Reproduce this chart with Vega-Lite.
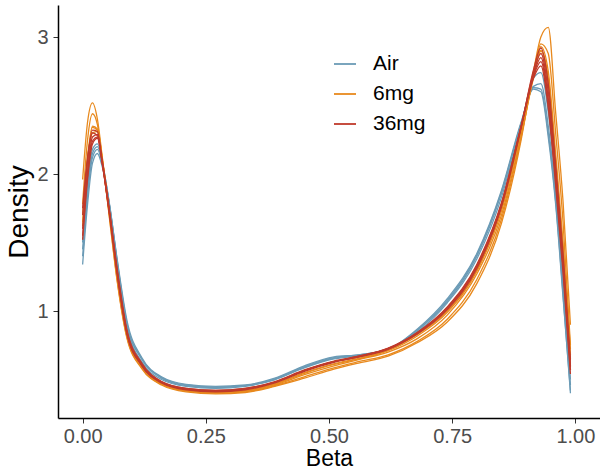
{
  "$schema": "https://vega.github.io/schema/vega-lite/v6.json",
  "autosize": {"type": "none"},
  "padding": {"left": 58, "top": 5, "right": 0, "bottom": 54},
  "width": 542,
  "height": 413,
  "background": "white",
  "config": {
    "view": {"stroke": null},
    "font": "Liberation Sans",
    "axis": {
      "grid": false,
      "domainColor": "#000000",
      "domainWidth": 1.5,
      "tickColor": "#333333",
      "tickWidth": 1,
      "tickSize": 5,
      "labelColor": "#4D4D4D",
      "labelFont": "Liberation Sans",
      "labelFontSize": 20,
      "titleFont": "Liberation Sans",
      "titleFontWeight": "normal",
      "titleColor": "#000000"
    }
  },
  "data": {
    "values": [
      {"s":"A1","g":"Air","x":0,"y":1.34},{"s":"A1","g":"Air","x":0.01,"y":1.78},{"s":"A1","g":"Air","x":0.02,"y":2.08},{"s":"A1","g":"Air","x":0.03,"y":2.15},{"s":"A1","g":"Air","x":0.04,"y":2.05},{"s":"A1","g":"Air","x":0.055,"y":1.76},{"s":"A1","g":"Air","x":0.07,"y":1.38},{"s":"A1","g":"Air","x":0.09,"y":0.93},{"s":"A1","g":"Air","x":0.12,"y":0.66},{"s":"A1","g":"Air","x":0.16,"y":0.52},{"s":"A1","g":"Air","x":0.21,"y":0.465},{"s":"A1","g":"Air","x":0.27,"y":0.45},{"s":"A1","g":"Air","x":0.33,"y":0.46},{"s":"A1","g":"Air","x":0.39,"y":0.51},{"s":"A1","g":"Air","x":0.45,"y":0.6},{"s":"A1","g":"Air","x":0.51,"y":0.665},{"s":"A1","g":"Air","x":0.56,"y":0.68},{"s":"A1","g":"Air","x":0.62,"y":0.72},{"s":"A1","g":"Air","x":0.68,"y":0.87},{"s":"A1","g":"Air","x":0.74,"y":1.09},{"s":"A1","g":"Air","x":0.8,"y":1.42},{"s":"A1","g":"Air","x":0.85,"y":1.88},{"s":"A1","g":"Air","x":0.89,"y":2.38},{"s":"A1","g":"Air","x":0.915,"y":2.62},{"s":"A1","g":"Air","x":0.93,"y":2.6},{"s":"A1","g":"Air","x":0.945,"y":2.27},{"s":"A1","g":"Air","x":0.96,"y":1.78},{"s":"A1","g":"Air","x":0.975,"y":1.1},{"s":"A1","g":"Air","x":0.99,"y":0.42},
      {"s":"A2","g":"Air","x":0,"y":1.45},{"s":"A2","g":"Air","x":0.01,"y":1.88},{"s":"A2","g":"Air","x":0.02,"y":2.15},{"s":"A2","g":"Air","x":0.03,"y":2.2},{"s":"A2","g":"Air","x":0.04,"y":2.08},{"s":"A2","g":"Air","x":0.055,"y":1.77},{"s":"A2","g":"Air","x":0.07,"y":1.37},{"s":"A2","g":"Air","x":0.09,"y":0.91},{"s":"A2","g":"Air","x":0.12,"y":0.65},{"s":"A2","g":"Air","x":0.16,"y":0.51},{"s":"A2","g":"Air","x":0.21,"y":0.455},{"s":"A2","g":"Air","x":0.27,"y":0.44},{"s":"A2","g":"Air","x":0.33,"y":0.455},{"s":"A2","g":"Air","x":0.39,"y":0.5},{"s":"A2","g":"Air","x":0.45,"y":0.59},{"s":"A2","g":"Air","x":0.51,"y":0.655},{"s":"A2","g":"Air","x":0.56,"y":0.675},{"s":"A2","g":"Air","x":0.62,"y":0.72},{"s":"A2","g":"Air","x":0.68,"y":0.86},{"s":"A2","g":"Air","x":0.74,"y":1.07},{"s":"A2","g":"Air","x":0.8,"y":1.4},{"s":"A2","g":"Air","x":0.85,"y":1.86},{"s":"A2","g":"Air","x":0.89,"y":2.37},{"s":"A2","g":"Air","x":0.915,"y":2.64},{"s":"A2","g":"Air","x":0.93,"y":2.66},{"s":"A2","g":"Air","x":0.945,"y":2.35},{"s":"A2","g":"Air","x":0.96,"y":1.85},{"s":"A2","g":"Air","x":0.975,"y":1.18},{"s":"A2","g":"Air","x":0.99,"y":0.46},
      {"s":"A3","g":"Air","x":0,"y":1.5},{"s":"A3","g":"Air","x":0.01,"y":1.92},{"s":"A3","g":"Air","x":0.02,"y":2.18},{"s":"A3","g":"Air","x":0.03,"y":2.22},{"s":"A3","g":"Air","x":0.04,"y":2.09},{"s":"A3","g":"Air","x":0.055,"y":1.75},{"s":"A3","g":"Air","x":0.07,"y":1.33},{"s":"A3","g":"Air","x":0.09,"y":0.88},{"s":"A3","g":"Air","x":0.12,"y":0.63},{"s":"A3","g":"Air","x":0.16,"y":0.5},{"s":"A3","g":"Air","x":0.21,"y":0.45},{"s":"A3","g":"Air","x":0.27,"y":0.435},{"s":"A3","g":"Air","x":0.33,"y":0.45},{"s":"A3","g":"Air","x":0.39,"y":0.5},{"s":"A3","g":"Air","x":0.45,"y":0.585},{"s":"A3","g":"Air","x":0.51,"y":0.65},{"s":"A3","g":"Air","x":0.56,"y":0.675},{"s":"A3","g":"Air","x":0.62,"y":0.725},{"s":"A3","g":"Air","x":0.68,"y":0.85},{"s":"A3","g":"Air","x":0.74,"y":1.06},{"s":"A3","g":"Air","x":0.8,"y":1.38},{"s":"A3","g":"Air","x":0.85,"y":1.83},{"s":"A3","g":"Air","x":0.89,"y":2.36},{"s":"A3","g":"Air","x":0.915,"y":2.7},{"s":"A3","g":"Air","x":0.93,"y":2.74},{"s":"A3","g":"Air","x":0.945,"y":2.45},{"s":"A3","g":"Air","x":0.96,"y":1.92},{"s":"A3","g":"Air","x":0.975,"y":1.25},{"s":"A3","g":"Air","x":0.99,"y":0.5},
      {"s":"A4","g":"Air","x":0,"y":1.4},{"s":"A4","g":"Air","x":0.01,"y":1.84},{"s":"A4","g":"Air","x":0.02,"y":2.12},{"s":"A4","g":"Air","x":0.03,"y":2.18},{"s":"A4","g":"Air","x":0.04,"y":2.07},{"s":"A4","g":"Air","x":0.055,"y":1.76},{"s":"A4","g":"Air","x":0.07,"y":1.36},{"s":"A4","g":"Air","x":0.09,"y":0.9},{"s":"A4","g":"Air","x":0.12,"y":0.65},{"s":"A4","g":"Air","x":0.16,"y":0.515},{"s":"A4","g":"Air","x":0.21,"y":0.46},{"s":"A4","g":"Air","x":0.27,"y":0.445},{"s":"A4","g":"Air","x":0.33,"y":0.455},{"s":"A4","g":"Air","x":0.39,"y":0.505},{"s":"A4","g":"Air","x":0.45,"y":0.595},{"s":"A4","g":"Air","x":0.51,"y":0.66},{"s":"A4","g":"Air","x":0.56,"y":0.68},{"s":"A4","g":"Air","x":0.62,"y":0.72},{"s":"A4","g":"Air","x":0.68,"y":0.865},{"s":"A4","g":"Air","x":0.74,"y":1.08},{"s":"A4","g":"Air","x":0.8,"y":1.41},{"s":"A4","g":"Air","x":0.85,"y":1.87},{"s":"A4","g":"Air","x":0.89,"y":2.37},{"s":"A4","g":"Air","x":0.915,"y":2.63},{"s":"A4","g":"Air","x":0.93,"y":2.62},{"s":"A4","g":"Air","x":0.945,"y":2.3},{"s":"A4","g":"Air","x":0.96,"y":1.8},{"s":"A4","g":"Air","x":0.975,"y":1.12},{"s":"A4","g":"Air","x":0.99,"y":0.4},
      {"s":"O1","g":"6mg","x":0,"y":1.96},{"s":"O1","g":"6mg","x":0.01,"y":2.38},{"s":"O1","g":"6mg","x":0.02,"y":2.52},{"s":"O1","g":"6mg","x":0.03,"y":2.4},{"s":"O1","g":"6mg","x":0.04,"y":2.12},{"s":"O1","g":"6mg","x":0.055,"y":1.66},{"s":"O1","g":"6mg","x":0.07,"y":1.22},{"s":"O1","g":"6mg","x":0.09,"y":0.8},{"s":"O1","g":"6mg","x":0.12,"y":0.58},{"s":"O1","g":"6mg","x":0.16,"y":0.46},{"s":"O1","g":"6mg","x":0.21,"y":0.41},{"s":"O1","g":"6mg","x":0.27,"y":0.395},{"s":"O1","g":"6mg","x":0.33,"y":0.405},{"s":"O1","g":"6mg","x":0.39,"y":0.45},{"s":"O1","g":"6mg","x":0.45,"y":0.51},{"s":"O1","g":"6mg","x":0.51,"y":0.575},{"s":"O1","g":"6mg","x":0.56,"y":0.62},{"s":"O1","g":"6mg","x":0.62,"y":0.67},{"s":"O1","g":"6mg","x":0.68,"y":0.77},{"s":"O1","g":"6mg","x":0.74,"y":0.92},{"s":"O1","g":"6mg","x":0.8,"y":1.2},{"s":"O1","g":"6mg","x":0.85,"y":1.64},{"s":"O1","g":"6mg","x":0.89,"y":2.25},{"s":"O1","g":"6mg","x":0.915,"y":2.75},{"s":"O1","g":"6mg","x":0.93,"y":3.0},{"s":"O1","g":"6mg","x":0.945,"y":3.07},{"s":"O1","g":"6mg","x":0.96,"y":2.45},{"s":"O1","g":"6mg","x":0.975,"y":1.8},{"s":"O1","g":"6mg","x":0.99,"y":0.9},
      {"s":"O2","g":"6mg","x":0,"y":1.78},{"s":"O2","g":"6mg","x":0.01,"y":2.25},{"s":"O2","g":"6mg","x":0.02,"y":2.44},{"s":"O2","g":"6mg","x":0.03,"y":2.36},{"s":"O2","g":"6mg","x":0.04,"y":2.1},{"s":"O2","g":"6mg","x":0.055,"y":1.67},{"s":"O2","g":"6mg","x":0.07,"y":1.23},{"s":"O2","g":"6mg","x":0.09,"y":0.81},{"s":"O2","g":"6mg","x":0.12,"y":0.585},{"s":"O2","g":"6mg","x":0.16,"y":0.465},{"s":"O2","g":"6mg","x":0.21,"y":0.415},{"s":"O2","g":"6mg","x":0.27,"y":0.4},{"s":"O2","g":"6mg","x":0.33,"y":0.41},{"s":"O2","g":"6mg","x":0.39,"y":0.455},{"s":"O2","g":"6mg","x":0.45,"y":0.52},{"s":"O2","g":"6mg","x":0.51,"y":0.585},{"s":"O2","g":"6mg","x":0.56,"y":0.63},{"s":"O2","g":"6mg","x":0.62,"y":0.68},{"s":"O2","g":"6mg","x":0.68,"y":0.78},{"s":"O2","g":"6mg","x":0.74,"y":0.94},{"s":"O2","g":"6mg","x":0.8,"y":1.23},{"s":"O2","g":"6mg","x":0.85,"y":1.67},{"s":"O2","g":"6mg","x":0.89,"y":2.27},{"s":"O2","g":"6mg","x":0.915,"y":2.72},{"s":"O2","g":"6mg","x":0.93,"y":2.95},{"s":"O2","g":"6mg","x":0.945,"y":2.88},{"s":"O2","g":"6mg","x":0.96,"y":2.3},{"s":"O2","g":"6mg","x":0.975,"y":1.65},{"s":"O2","g":"6mg","x":0.99,"y":0.75},
      {"s":"O3","g":"6mg","x":0,"y":1.62},{"s":"O3","g":"6mg","x":0.01,"y":2.1},{"s":"O3","g":"6mg","x":0.02,"y":2.34},{"s":"O3","g":"6mg","x":0.03,"y":2.32},{"s":"O3","g":"6mg","x":0.04,"y":2.1},{"s":"O3","g":"6mg","x":0.055,"y":1.69},{"s":"O3","g":"6mg","x":0.07,"y":1.26},{"s":"O3","g":"6mg","x":0.09,"y":0.83},{"s":"O3","g":"6mg","x":0.12,"y":0.6},{"s":"O3","g":"6mg","x":0.16,"y":0.47},{"s":"O3","g":"6mg","x":0.21,"y":0.42},{"s":"O3","g":"6mg","x":0.27,"y":0.405},{"s":"O3","g":"6mg","x":0.33,"y":0.415},{"s":"O3","g":"6mg","x":0.39,"y":0.46},{"s":"O3","g":"6mg","x":0.45,"y":0.535},{"s":"O3","g":"6mg","x":0.51,"y":0.6},{"s":"O3","g":"6mg","x":0.56,"y":0.645},{"s":"O3","g":"6mg","x":0.62,"y":0.7},{"s":"O3","g":"6mg","x":0.68,"y":0.8},{"s":"O3","g":"6mg","x":0.74,"y":0.97},{"s":"O3","g":"6mg","x":0.8,"y":1.27},{"s":"O3","g":"6mg","x":0.85,"y":1.7},{"s":"O3","g":"6mg","x":0.89,"y":2.28},{"s":"O3","g":"6mg","x":0.915,"y":2.7},{"s":"O3","g":"6mg","x":0.93,"y":2.9},{"s":"O3","g":"6mg","x":0.945,"y":2.7},{"s":"O3","g":"6mg","x":0.96,"y":2.1},{"s":"O3","g":"6mg","x":0.975,"y":1.45},{"s":"O3","g":"6mg","x":0.99,"y":0.68},
      {"s":"O4","g":"6mg","x":0,"y":1.7},{"s":"O4","g":"6mg","x":0.01,"y":2.12},{"s":"O4","g":"6mg","x":0.02,"y":2.35},{"s":"O4","g":"6mg","x":0.03,"y":2.33},{"s":"O4","g":"6mg","x":0.04,"y":2.11},{"s":"O4","g":"6mg","x":0.055,"y":1.7},{"s":"O4","g":"6mg","x":0.07,"y":1.27},{"s":"O4","g":"6mg","x":0.09,"y":0.83},{"s":"O4","g":"6mg","x":0.12,"y":0.6},{"s":"O4","g":"6mg","x":0.16,"y":0.475},{"s":"O4","g":"6mg","x":0.21,"y":0.425},{"s":"O4","g":"6mg","x":0.27,"y":0.41},{"s":"O4","g":"6mg","x":0.33,"y":0.42},{"s":"O4","g":"6mg","x":0.39,"y":0.465},{"s":"O4","g":"6mg","x":0.45,"y":0.545},{"s":"O4","g":"6mg","x":0.51,"y":0.61},{"s":"O4","g":"6mg","x":0.56,"y":0.65},{"s":"O4","g":"6mg","x":0.62,"y":0.71},{"s":"O4","g":"6mg","x":0.68,"y":0.82},{"s":"O4","g":"6mg","x":0.74,"y":0.99},{"s":"O4","g":"6mg","x":0.8,"y":1.29},{"s":"O4","g":"6mg","x":0.85,"y":1.73},{"s":"O4","g":"6mg","x":0.89,"y":2.31},{"s":"O4","g":"6mg","x":0.915,"y":2.72},{"s":"O4","g":"6mg","x":0.93,"y":2.9},{"s":"O4","g":"6mg","x":0.945,"y":2.65},{"s":"O4","g":"6mg","x":0.96,"y":2.05},{"s":"O4","g":"6mg","x":0.975,"y":1.4},{"s":"O4","g":"6mg","x":0.99,"y":0.65},
      {"s":"O5","g":"6mg","x":0,"y":1.65},{"s":"O5","g":"6mg","x":0.01,"y":2.08},{"s":"O5","g":"6mg","x":0.02,"y":2.3},{"s":"O5","g":"6mg","x":0.03,"y":2.31},{"s":"O5","g":"6mg","x":0.04,"y":2.1},{"s":"O5","g":"6mg","x":0.055,"y":1.7},{"s":"O5","g":"6mg","x":0.07,"y":1.28},{"s":"O5","g":"6mg","x":0.09,"y":0.84},{"s":"O5","g":"6mg","x":0.12,"y":0.605},{"s":"O5","g":"6mg","x":0.16,"y":0.475},{"s":"O5","g":"6mg","x":0.21,"y":0.425},{"s":"O5","g":"6mg","x":0.27,"y":0.41},{"s":"O5","g":"6mg","x":0.33,"y":0.42},{"s":"O5","g":"6mg","x":0.39,"y":0.47},{"s":"O5","g":"6mg","x":0.45,"y":0.55},{"s":"O5","g":"6mg","x":0.51,"y":0.615},{"s":"O5","g":"6mg","x":0.56,"y":0.655},{"s":"O5","g":"6mg","x":0.62,"y":0.715},{"s":"O5","g":"6mg","x":0.68,"y":0.83},{"s":"O5","g":"6mg","x":0.74,"y":1.0},{"s":"O5","g":"6mg","x":0.8,"y":1.3},{"s":"O5","g":"6mg","x":0.85,"y":1.75},{"s":"O5","g":"6mg","x":0.89,"y":2.32},{"s":"O5","g":"6mg","x":0.915,"y":2.73},{"s":"O5","g":"6mg","x":0.93,"y":2.93},{"s":"O5","g":"6mg","x":0.945,"y":2.75},{"s":"O5","g":"6mg","x":0.96,"y":2.15},{"s":"O5","g":"6mg","x":0.975,"y":1.5},{"s":"O5","g":"6mg","x":0.99,"y":0.72},
      {"s":"R1","g":"36mg","x":0,"y":1.6},{"s":"R1","g":"36mg","x":0.01,"y":2.02},{"s":"R1","g":"36mg","x":0.02,"y":2.27},{"s":"R1","g":"36mg","x":0.03,"y":2.29},{"s":"R1","g":"36mg","x":0.04,"y":2.08},{"s":"R1","g":"36mg","x":0.055,"y":1.7},{"s":"R1","g":"36mg","x":0.07,"y":1.29},{"s":"R1","g":"36mg","x":0.09,"y":0.84},{"s":"R1","g":"36mg","x":0.12,"y":0.61},{"s":"R1","g":"36mg","x":0.16,"y":0.48},{"s":"R1","g":"36mg","x":0.21,"y":0.43},{"s":"R1","g":"36mg","x":0.27,"y":0.415},{"s":"R1","g":"36mg","x":0.33,"y":0.43},{"s":"R1","g":"36mg","x":0.39,"y":0.48},{"s":"R1","g":"36mg","x":0.45,"y":0.565},{"s":"R1","g":"36mg","x":0.51,"y":0.63},{"s":"R1","g":"36mg","x":0.56,"y":0.665},{"s":"R1","g":"36mg","x":0.62,"y":0.725},{"s":"R1","g":"36mg","x":0.68,"y":0.84},{"s":"R1","g":"36mg","x":0.74,"y":1.02},{"s":"R1","g":"36mg","x":0.8,"y":1.32},{"s":"R1","g":"36mg","x":0.85,"y":1.77},{"s":"R1","g":"36mg","x":0.89,"y":2.34},{"s":"R1","g":"36mg","x":0.915,"y":2.72},{"s":"R1","g":"36mg","x":0.93,"y":2.85},{"s":"R1","g":"36mg","x":0.945,"y":2.55},{"s":"R1","g":"36mg","x":0.96,"y":1.98},{"s":"R1","g":"36mg","x":0.975,"y":1.35},{"s":"R1","g":"36mg","x":0.99,"y":0.59},
      {"s":"R2","g":"36mg","x":0,"y":1.7},{"s":"R2","g":"36mg","x":0.01,"y":2.1},{"s":"R2","g":"36mg","x":0.02,"y":2.32},{"s":"R2","g":"36mg","x":0.03,"y":2.31},{"s":"R2","g":"36mg","x":0.04,"y":2.08},{"s":"R2","g":"36mg","x":0.055,"y":1.69},{"s":"R2","g":"36mg","x":0.07,"y":1.27},{"s":"R2","g":"36mg","x":0.09,"y":0.83},{"s":"R2","g":"36mg","x":0.12,"y":0.6},{"s":"R2","g":"36mg","x":0.16,"y":0.475},{"s":"R2","g":"36mg","x":0.21,"y":0.425},{"s":"R2","g":"36mg","x":0.27,"y":0.41},{"s":"R2","g":"36mg","x":0.33,"y":0.425},{"s":"R2","g":"36mg","x":0.39,"y":0.475},{"s":"R2","g":"36mg","x":0.45,"y":0.56},{"s":"R2","g":"36mg","x":0.51,"y":0.625},{"s":"R2","g":"36mg","x":0.56,"y":0.665},{"s":"R2","g":"36mg","x":0.62,"y":0.725},{"s":"R2","g":"36mg","x":0.68,"y":0.835},{"s":"R2","g":"36mg","x":0.74,"y":1.01},{"s":"R2","g":"36mg","x":0.8,"y":1.31},{"s":"R2","g":"36mg","x":0.85,"y":1.76},{"s":"R2","g":"36mg","x":0.89,"y":2.34},{"s":"R2","g":"36mg","x":0.915,"y":2.76},{"s":"R2","g":"36mg","x":0.93,"y":2.92},{"s":"R2","g":"36mg","x":0.945,"y":2.66},{"s":"R2","g":"36mg","x":0.96,"y":2.07},{"s":"R2","g":"36mg","x":0.975,"y":1.42},{"s":"R2","g":"36mg","x":0.99,"y":0.64},
      {"s":"R3","g":"36mg","x":0,"y":1.52},{"s":"R3","g":"36mg","x":0.01,"y":1.96},{"s":"R3","g":"36mg","x":0.02,"y":2.22},{"s":"R3","g":"36mg","x":0.03,"y":2.26},{"s":"R3","g":"36mg","x":0.04,"y":2.08},{"s":"R3","g":"36mg","x":0.055,"y":1.72},{"s":"R3","g":"36mg","x":0.07,"y":1.31},{"s":"R3","g":"36mg","x":0.09,"y":0.86},{"s":"R3","g":"36mg","x":0.12,"y":0.62},{"s":"R3","g":"36mg","x":0.16,"y":0.485},{"s":"R3","g":"36mg","x":0.21,"y":0.435},{"s":"R3","g":"36mg","x":0.27,"y":0.42},{"s":"R3","g":"36mg","x":0.33,"y":0.435},{"s":"R3","g":"36mg","x":0.39,"y":0.485},{"s":"R3","g":"36mg","x":0.45,"y":0.57},{"s":"R3","g":"36mg","x":0.51,"y":0.635},{"s":"R3","g":"36mg","x":0.56,"y":0.67},{"s":"R3","g":"36mg","x":0.62,"y":0.725},{"s":"R3","g":"36mg","x":0.68,"y":0.845},{"s":"R3","g":"36mg","x":0.74,"y":1.03},{"s":"R3","g":"36mg","x":0.8,"y":1.34},{"s":"R3","g":"36mg","x":0.85,"y":1.79},{"s":"R3","g":"36mg","x":0.89,"y":2.35},{"s":"R3","g":"36mg","x":0.915,"y":2.7},{"s":"R3","g":"36mg","x":0.93,"y":2.79},{"s":"R3","g":"36mg","x":0.945,"y":2.48},{"s":"R3","g":"36mg","x":0.96,"y":1.92},{"s":"R3","g":"36mg","x":0.975,"y":1.28},{"s":"R3","g":"36mg","x":0.99,"y":0.54},
      {"s":"R4","g":"36mg","x":0,"y":1.75},{"s":"R4","g":"36mg","x":0.01,"y":2.12},{"s":"R4","g":"36mg","x":0.02,"y":2.3},{"s":"R4","g":"36mg","x":0.03,"y":2.28},{"s":"R4","g":"36mg","x":0.04,"y":2.07},{"s":"R4","g":"36mg","x":0.055,"y":1.7},{"s":"R4","g":"36mg","x":0.07,"y":1.28},{"s":"R4","g":"36mg","x":0.09,"y":0.835},{"s":"R4","g":"36mg","x":0.12,"y":0.605},{"s":"R4","g":"36mg","x":0.16,"y":0.48},{"s":"R4","g":"36mg","x":0.21,"y":0.43},{"s":"R4","g":"36mg","x":0.27,"y":0.415},{"s":"R4","g":"36mg","x":0.33,"y":0.43},{"s":"R4","g":"36mg","x":0.39,"y":0.48},{"s":"R4","g":"36mg","x":0.45,"y":0.565},{"s":"R4","g":"36mg","x":0.51,"y":0.63},{"s":"R4","g":"36mg","x":0.56,"y":0.665},{"s":"R4","g":"36mg","x":0.62,"y":0.72},{"s":"R4","g":"36mg","x":0.68,"y":0.84},{"s":"R4","g":"36mg","x":0.74,"y":1.02},{"s":"R4","g":"36mg","x":0.8,"y":1.33},{"s":"R4","g":"36mg","x":0.85,"y":1.78},{"s":"R4","g":"36mg","x":0.89,"y":2.35},{"s":"R4","g":"36mg","x":0.915,"y":2.74},{"s":"R4","g":"36mg","x":0.93,"y":2.88},{"s":"R4","g":"36mg","x":0.945,"y":2.6},{"s":"R4","g":"36mg","x":0.96,"y":2.02},{"s":"R4","g":"36mg","x":0.975,"y":1.38},{"s":"R4","g":"36mg","x":0.99,"y":0.6},
      {"s":"R5","g":"36mg","x":0,"y":1.55},{"s":"R5","g":"36mg","x":0.01,"y":1.99},{"s":"R5","g":"36mg","x":0.02,"y":2.24},{"s":"R5","g":"36mg","x":0.03,"y":2.27},{"s":"R5","g":"36mg","x":0.04,"y":2.09},{"s":"R5","g":"36mg","x":0.055,"y":1.71},{"s":"R5","g":"36mg","x":0.07,"y":1.3},{"s":"R5","g":"36mg","x":0.09,"y":0.85},{"s":"R5","g":"36mg","x":0.12,"y":0.615},{"s":"R5","g":"36mg","x":0.16,"y":0.485},{"s":"R5","g":"36mg","x":0.21,"y":0.435},{"s":"R5","g":"36mg","x":0.27,"y":0.42},{"s":"R5","g":"36mg","x":0.33,"y":0.435},{"s":"R5","g":"36mg","x":0.39,"y":0.48},{"s":"R5","g":"36mg","x":0.45,"y":0.565},{"s":"R5","g":"36mg","x":0.51,"y":0.63},{"s":"R5","g":"36mg","x":0.56,"y":0.67},{"s":"R5","g":"36mg","x":0.62,"y":0.73},{"s":"R5","g":"36mg","x":0.68,"y":0.845},{"s":"R5","g":"36mg","x":0.74,"y":1.025},{"s":"R5","g":"36mg","x":0.8,"y":1.33},{"s":"R5","g":"36mg","x":0.85,"y":1.78},{"s":"R5","g":"36mg","x":0.89,"y":2.35},{"s":"R5","g":"36mg","x":0.915,"y":2.71},{"s":"R5","g":"36mg","x":0.93,"y":2.82},{"s":"R5","g":"36mg","x":0.945,"y":2.52},{"s":"R5","g":"36mg","x":0.96,"y":1.95},{"s":"R5","g":"36mg","x":0.975,"y":1.32},{"s":"R5","g":"36mg","x":0.99,"y":0.57}
    ]
  },
  "mark": {"type": "line", "interpolate": "monotone", "strokeWidth": 1.3, "clip": true},
  "encoding": {
    "x": {
      "field": "x", "type": "quantitative", "title": "Beta",
      "scale": {"domain": [-0.05, 1.05], "nice": false, "zero": false},
      "axis": {"values": [0, 0.25, 0.5, 0.75, 1], "format": ".2f", "labelPadding": 3, "titlePadding": 1, "titleFontSize": 23}
    },
    "y": {
      "field": "y", "type": "quantitative", "title": "Density",
      "scale": {"domain": [0.219, 3.234], "nice": false, "zero": false},
      "axis": {"values": [1, 2, 3], "format": "d", "labelPadding": 5, "titlePadding": 3, "titleFontSize": 28}
    },
    "detail": {"field": "s"},
    "color": {
      "field": "g", "type": "nominal",
      "scale": {"domain": ["Air", "6mg", "36mg"], "range": ["#6B9BB6", "#E8891D", "#C03A2B"]},
      "legend": {
        "title": null,
        "orient": "none",
        "legendX": 275,
        "legendY": 47,
        "symbolType": "stroke",
        "symbolSize": 484,
        "symbolStrokeWidth": 1.8,
        "labelFontSize": 21,
        "labelColor": "#000000",
        "labelFont": "Liberation Sans",
        "labelOffset": 16,
        "rowPadding": 8,
        "padding": 0
      }
    }
  }
}
